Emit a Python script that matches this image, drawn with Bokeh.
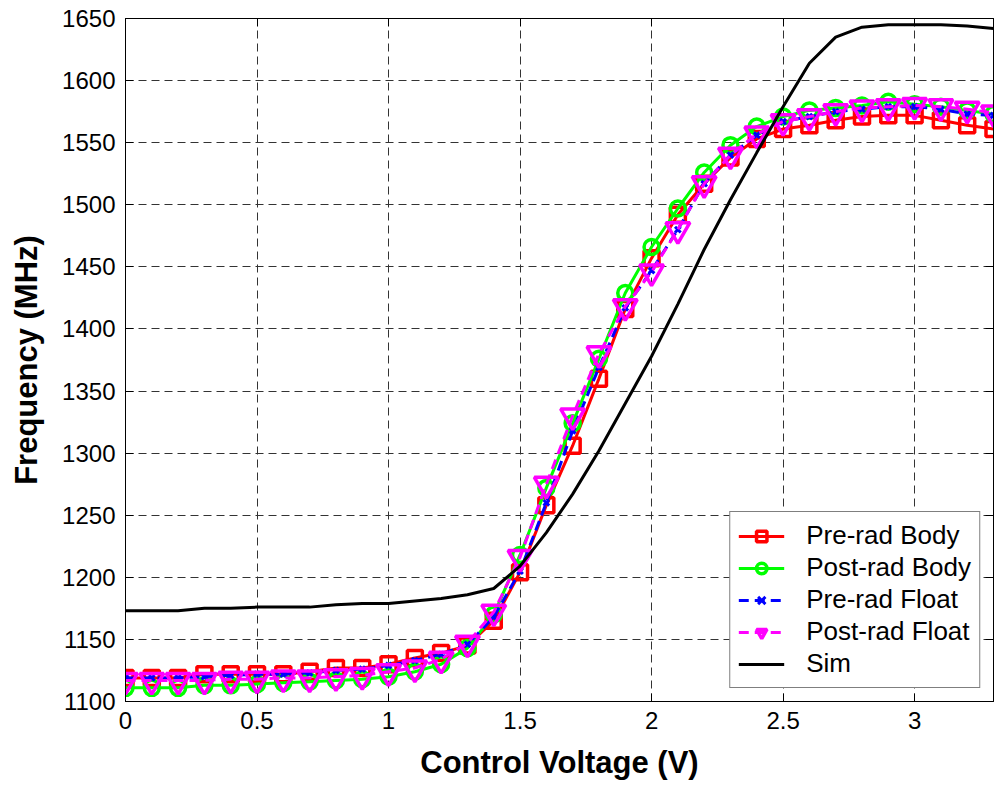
from bokeh.plotting import figure
from bokeh.models import LinearAxis, FixedTicker, Range1d, Legend, LegendItem
from bokeh.embed import file_html
from bokeh.resources import INLINE

volts = [round(0.1 * i, 1) for i in range(34)]
pre_body = [1119, 1119, 1119, 1122, 1122, 1122, 1122, 1124, 1127, 1127, 1130, 1135, 1139, 1145, 1165, 1204,
            1258, 1306, 1360, 1416, 1457, 1492, 1517, 1538, 1553, 1561, 1564, 1568, 1571, 1572, 1572, 1568, 1564, 1561]
post_body = [1111, 1111, 1111, 1113, 1113, 1114, 1115, 1116, 1117, 1118, 1120, 1124, 1130, 1143, 1170, 1218,
             1272, 1324, 1376, 1429, 1466, 1497, 1526, 1548, 1563, 1571, 1576, 1578, 1580, 1583, 1581, 1579, 1576, 1573]
pre_float = [1119, 1119, 1119, 1120, 1121, 1122, 1122, 1123, 1125, 1126, 1129, 1133, 1138, 1146, 1168, 1205,
             1260, 1318, 1369, 1417, 1447, 1480, 1517, 1540, 1556, 1567, 1571, 1575, 1577, 1579, 1579, 1577, 1573, 1572]
post_float = [1117, 1117, 1117, 1117, 1118, 1118, 1119, 1119, 1120, 1121, 1124, 1127, 1134, 1147, 1172, 1216,
              1275, 1330, 1380, 1418, 1446, 1480, 1517, 1540, 1557, 1567, 1571, 1575, 1578, 1579, 1580, 1579, 1577, 1574]
sim = [1173, 1173, 1173, 1175, 1175, 1176, 1176, 1176, 1178, 1179, 1179, 1181, 1183, 1186, 1191, 1209,
       1236, 1267, 1302, 1340, 1378, 1420, 1464, 1504, 1542, 1579, 1614, 1635, 1643, 1645, 1645, 1645, 1644, 1642]

x_ticks = [0, 0.5, 1, 1.5, 2, 2.5, 3]
x_tick_labels = ["0", "0.5", "1", "1.5", "2", "2.5", "3"]
y_ticks = list(range(1100, 1651, 50))
labels = ["Pre-rad Body", "Post-rad Body", "Pre-rad Float", "Post-rad Float", "Sim"]

FONT = "Liberation Sans"

p = figure(width=1001, height=787, output_backend="svg", toolbar_location=None,
           x_range=Range1d(0, 3.3), y_range=Range1d(1100, 1650),
           min_border_left=125, min_border_right=8, min_border_top=18, min_border_bottom=80)
p.frame_width = 868
p.frame_height = 683
p.background_fill_color = "white"
p.border_fill_color = "white"
p.outline_line_color = "black"
p.outline_line_width = 1

for ax in (p.xaxis[0], p.yaxis[0]):
    ax.major_tick_in = 8
    ax.major_tick_out = 0
    ax.minor_tick_in = 0
    ax.minor_tick_out = 0
    ax.axis_line_color = "black"
    ax.major_label_text_font = FONT
    ax.major_label_text_font_size = "24px"
    ax.major_label_text_color = "black"
    ax.axis_label_text_font = FONT
    ax.axis_label_text_font_style = "bold"
    ax.axis_label_text_font_size = "31px"
    ax.axis_label_text_color = "black"

p.xaxis.ticker = FixedTicker(ticks=x_ticks)
p.xaxis.major_label_overrides = dict(zip(x_ticks, x_tick_labels))
p.yaxis.ticker = FixedTicker(ticks=y_ticks)
p.xaxis.axis_label = "Control Voltage (V)"
p.yaxis.axis_label = "Frequency (MHz)"
p.xaxis.major_label_standoff = 10
p.yaxis.major_label_standoff = 10
p.xaxis.axis_label_standoff = 13
p.yaxis.axis_label_standoff = 15

for loc, tk in (("above", x_ticks), ("right", y_ticks)):
    a = LinearAxis(ticker=FixedTicker(ticks=tk), major_label_text_font_size="1px",
                   major_label_text_color=None,
                   major_tick_in=8, major_tick_out=0, minor_tick_in=0, minor_tick_out=0,
                   major_label_standoff=0, axis_line_color="black")
    p.add_layout(a, loc)

p.xgrid.ticker = FixedTicker(ticks=x_ticks)
p.ygrid.ticker = FixedTicker(ticks=y_ticks)
for g in (p.xgrid[0], p.ygrid[0]):
    g.grid_line_color = "#333333"
    g.grid_line_dash = "8 5"
    g.grid_line_width = 1

lw = 3
r1 = p.line(volts, pre_body, line_color="#FF0000", line_width=lw)
m1 = p.scatter(volts, pre_body, marker="square", size=15, line_color="#FF0000", fill_color=None, line_width=3.5)
r2 = p.line(volts, post_body, line_color="#00FF00", line_width=lw)
m2 = p.scatter(volts, post_body, marker="circle", size=15, line_color="#00FF00", fill_color=None, line_width=3.5)
r3 = p.line(volts, pre_float, line_color="#0000FF", line_width=lw, line_dash="10 6")
m3 = p.scatter(volts, pre_float, marker="x", size=8, line_color="#0000FF", line_width=3)
r4 = p.line(volts, post_float, line_color="#FF00FF", line_width=lw, line_dash="10 6")
m4 = p.scatter(volts, post_float, marker="inverted_triangle", size=24, line_color="#FF00FF", fill_color=None, line_width=3.5)
r5 = p.line(volts, sim, line_color="black", line_width=lw)

legend = Legend(items=[
    LegendItem(label=labels[0], renderers=[r1, m1]),
    LegendItem(label=labels[1], renderers=[r2, m2]),
    LegendItem(label=labels[2], renderers=[r3, m3]),
    LegendItem(label=labels[3], renderers=[r4, m4]),
    LegendItem(label=labels[4], renderers=[r5]),
], location="bottom_right")
legend.label_text_font = FONT
legend.label_text_font_size = "26px"
legend.label_text_color = "black"
legend.border_line_color = "black"
legend.border_line_width = 1.5
legend.background_fill_color = "white"
legend.background_fill_alpha = 1
legend.glyph_width = 46
legend.glyph_height = 26
legend.label_height = 26
legend.spacing = 1
legend.padding = 8
legend.margin = 13
legend.label_standoff = 22
p.add_layout(legend)

open("out.html", "w").write(file_html(p, INLINE))
